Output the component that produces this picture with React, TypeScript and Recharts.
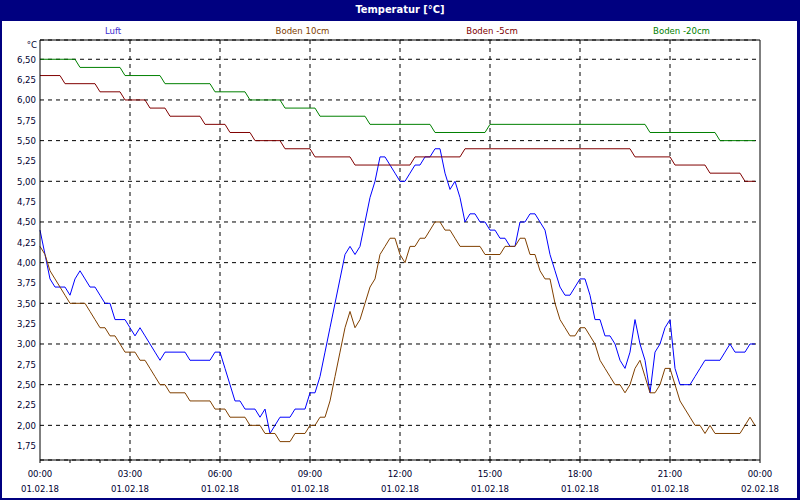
import { LineChart, Line, XAxis, YAxis, CartesianGrid, ReferenceLine } from 'recharts';

// 10-minute samples, 01.02.18 00:00 .. 02.02.18 00:00
const times = [
  '00:00', '00:10', '00:20', '00:30', '00:40', '00:50', '01:00', '01:10', '01:20', '01:30', '01:40', '01:50',
  '02:00', '02:10', '02:20', '02:30', '02:40', '02:50', '03:00', '03:10', '03:20', '03:30', '03:40', '03:50',
  '04:00', '04:10', '04:20', '04:30', '04:40', '04:50', '05:00', '05:10', '05:20', '05:30', '05:40', '05:50',
  '06:00', '06:10', '06:20', '06:30', '06:40', '06:50', '07:00', '07:10', '07:20', '07:30', '07:40', '07:50',
  '08:00', '08:10', '08:20', '08:30', '08:40', '08:50', '09:00', '09:10', '09:20', '09:30', '09:40', '09:50',
  '10:00', '10:10', '10:20', '10:30', '10:40', '10:50', '11:00', '11:10', '11:20', '11:30', '11:40', '11:50',
  '12:00', '12:10', '12:20', '12:30', '12:40', '12:50', '13:00', '13:10', '13:20', '13:30', '13:40', '13:50',
  '14:00', '14:10', '14:20', '14:30', '14:40', '14:50', '15:00', '15:10', '15:20', '15:30', '15:40', '15:50',
  '16:00', '16:10', '16:20', '16:30', '16:40', '16:50', '17:00', '17:10', '17:20', '17:30', '17:40', '17:50',
  '18:00', '18:10', '18:20', '18:30', '18:40', '18:50', '19:00', '19:10', '19:20', '19:30', '19:40', '19:50',
  '20:00', '20:10', '20:20', '20:30', '20:40', '20:50', '21:00', '21:10', '21:20', '21:30', '21:40', '21:50',
  '22:00', '22:10', '22:20', '22:30', '22:40', '22:50', '23:00', '23:10', '23:20', '23:30', '23:40', '23:50',
  '24:00',
];

const luft = [
  4.4, 4.1, 3.8, 3.7, 3.7, 3.7, 3.6, 3.8, 3.9, 3.8, 3.7, 3.7,
  3.6, 3.5, 3.5, 3.3, 3.3, 3.3, 3.2, 3.1, 3.2, 3.1, 3.0, 2.9,
  2.8, 2.9, 2.9, 2.9, 2.9, 2.9, 2.8, 2.8, 2.8, 2.8, 2.8, 2.9,
  2.9, 2.7, 2.5, 2.3, 2.3, 2.2, 2.2, 2.2, 2.1, 2.2, 1.9, 2.0,
  2.1, 2.1, 2.1, 2.2, 2.2, 2.2, 2.4, 2.4, 2.6, 2.9, 3.2, 3.5,
  3.8, 4.1, 4.2, 4.1, 4.2, 4.5, 4.8, 5.0, 5.3, 5.3, 5.2, 5.1,
  5.0, 5.0, 5.1, 5.2, 5.2, 5.3, 5.3, 5.4, 5.4, 5.1, 4.9, 5.0,
  4.8, 4.5, 4.6, 4.6, 4.5, 4.5, 4.4, 4.4, 4.3, 4.3, 4.2, 4.2,
  4.5, 4.5, 4.6, 4.6, 4.5, 4.4, 4.1, 3.9, 3.7, 3.6, 3.6, 3.7,
  3.8, 3.8, 3.6, 3.3, 3.3, 3.1, 3.1, 3.0, 2.8, 2.7, 2.9, 3.3,
  3.0, 2.8, 2.4, 2.9, 3.0, 3.2, 3.3, 2.7, 2.5, 2.5, 2.5, 2.6,
  2.7, 2.8, 2.8, 2.8, 2.8, 2.9, 3.0, 2.9, 2.9, 2.9, 3.0, 3.0,
  null,
];

const boden10 = [
  4.2, 4.1, 3.9, 3.8, 3.7, 3.6, 3.5, 3.5, 3.5, 3.5, 3.4, 3.3,
  3.2, 3.2, 3.1, 3.1, 3.0, 2.9, 2.9, 2.9, 2.8, 2.8, 2.7, 2.6,
  2.5, 2.5, 2.4, 2.4, 2.4, 2.4, 2.3, 2.3, 2.3, 2.3, 2.3, 2.2,
  2.2, 2.2, 2.1, 2.1, 2.1, 2.1, 2.0, 2.0, 2.0, 1.9, 1.9, 1.9,
  1.8, 1.8, 1.8, 1.9, 1.9, 1.9, 2.0, 2.0, 2.1, 2.1, 2.3, 2.6,
  2.9, 3.2, 3.4, 3.2, 3.3, 3.5, 3.7, 3.8, 4.1, 4.2, 4.3, 4.3,
  4.1, 4.0, 4.2, 4.2, 4.3, 4.3, 4.4, 4.5, 4.5, 4.4, 4.4, 4.3,
  4.2, 4.2, 4.2, 4.2, 4.2, 4.1, 4.1, 4.1, 4.1, 4.2, 4.2, 4.2,
  4.3, 4.3, 4.1, 4.1, 3.9, 3.8, 3.8, 3.5, 3.3, 3.2, 3.1, 3.1,
  3.2, 3.2, 3.1, 3.0, 2.8, 2.7, 2.6, 2.5, 2.5, 2.4, 2.5, 2.7,
  2.8, 2.6, 2.4, 2.4, 2.5, 2.7, 2.7, 2.5, 2.3, 2.2, 2.1, 2.0,
  2.0, 1.9, 2.0, 1.9, 1.9, 1.9, 1.9, 1.9, 1.9, 2.0, 2.1, 2.0,
  null,
];

const boden5 = [
  6.3, 6.3, 6.3, 6.3, 6.3, 6.2, 6.2, 6.2, 6.2, 6.2, 6.2, 6.2,
  6.1, 6.1, 6.1, 6.1, 6.1, 6.0, 6.0, 6.0, 6.0, 6.0, 5.9, 5.9,
  5.9, 5.9, 5.8, 5.8, 5.8, 5.8, 5.8, 5.8, 5.8, 5.7, 5.7, 5.7,
  5.7, 5.7, 5.6, 5.6, 5.6, 5.6, 5.6, 5.5, 5.5, 5.5, 5.5, 5.5,
  5.5, 5.4, 5.4, 5.4, 5.4, 5.4, 5.4, 5.3, 5.3, 5.3, 5.3, 5.3,
  5.3, 5.3, 5.3, 5.2, 5.2, 5.2, 5.2, 5.2, 5.2, 5.2, 5.2, 5.2,
  5.2, 5.2, 5.2, 5.3, 5.3, 5.3, 5.3, 5.3, 5.3, 5.3, 5.3, 5.3,
  5.3, 5.4, 5.4, 5.4, 5.4, 5.4, 5.4, 5.4, 5.4, 5.4, 5.4, 5.4,
  5.4, 5.4, 5.4, 5.4, 5.4, 5.4, 5.4, 5.4, 5.4, 5.4, 5.4, 5.4,
  5.4, 5.4, 5.4, 5.4, 5.4, 5.4, 5.4, 5.4, 5.4, 5.4, 5.4, 5.3,
  5.3, 5.3, 5.3, 5.3, 5.3, 5.3, 5.3, 5.2, 5.2, 5.2, 5.2, 5.2,
  5.2, 5.2, 5.1, 5.1, 5.1, 5.1, 5.1, 5.1, 5.1, 5.0, 5.0, 5.0,
  null,
];

const boden20 = [
  6.5, 6.5, 6.5, 6.5, 6.5, 6.5, 6.5, 6.5, 6.4, 6.4, 6.4, 6.4,
  6.4, 6.4, 6.4, 6.4, 6.4, 6.3, 6.3, 6.3, 6.3, 6.3, 6.3, 6.3,
  6.3, 6.2, 6.2, 6.2, 6.2, 6.2, 6.2, 6.2, 6.2, 6.2, 6.2, 6.1,
  6.1, 6.1, 6.1, 6.1, 6.1, 6.1, 6.0, 6.0, 6.0, 6.0, 6.0, 6.0,
  6.0, 5.9, 5.9, 5.9, 5.9, 5.9, 5.9, 5.9, 5.8, 5.8, 5.8, 5.8,
  5.8, 5.8, 5.8, 5.8, 5.8, 5.8, 5.7, 5.7, 5.7, 5.7, 5.7, 5.7,
  5.7, 5.7, 5.7, 5.7, 5.7, 5.7, 5.7, 5.6, 5.6, 5.6, 5.6, 5.6,
  5.6, 5.6, 5.6, 5.6, 5.6, 5.6, 5.7, 5.7, 5.7, 5.7, 5.7, 5.7,
  5.7, 5.7, 5.7, 5.7, 5.7, 5.7, 5.7, 5.7, 5.7, 5.7, 5.7, 5.7,
  5.7, 5.7, 5.7, 5.7, 5.7, 5.7, 5.7, 5.7, 5.7, 5.7, 5.7, 5.7,
  5.7, 5.7, 5.6, 5.6, 5.6, 5.6, 5.6, 5.6, 5.6, 5.6, 5.6, 5.6,
  5.6, 5.6, 5.6, 5.6, 5.5, 5.5, 5.5, 5.5, 5.5, 5.5, 5.5, 5.5,
  null,
];

const seriesNames = ['Luft', 'Boden 10cm', 'Boden -5cm', 'Boden -20cm'];
const seriesKeys = ['luft', 'boden10', 'boden5', 'boden20'];
const seriesColors = ['#0000ff', '#804000', '#800000', '#008000'];
const legendColors = ['#3a2cd0', '#804000', '#800000', '#008000'];

const yTicks = [1.75, 2, 2.25, 2.5, 2.75, 3, 3.25, 3.5, 3.75, 4, 4.25, 4.5, 4.75, 5, 5.25, 5.5, 5.75, 6, 6.25, 6.5];
const hourTicks = [
  '00:00', '01:00', '02:00', '03:00', '04:00', '05:00', '06:00', '07:00', '08:00', '09:00', '10:00', '11:00',
  '12:00', '13:00', '14:00', '15:00', '16:00', '17:00', '18:00', '19:00', '20:00', '21:00', '22:00', '23:00', '24:00',
];
const majorTicks = ['00:00', '03:00', '06:00', '09:00', '12:00', '15:00', '18:00', '21:00', '24:00'];
const majorTimeLabels = ['00:00', '03:00', '06:00', '09:00', '12:00', '15:00', '18:00', '21:00', '00:00'];
const majorDateLabels = ['01.02.18', '01.02.18', '01.02.18', '01.02.18', '01.02.18', '01.02.18', '01.02.18', '01.02.18', '02.02.18'];
const innerGridTicks = ['03:00', '06:00', '09:00', '12:00', '15:00', '18:00', '21:00'];

const Y_MIN = 1.574;
const Y_MAX = 6.737;

const FONT = "'DejaVu Sans Condensed', 'Liberation Sans', sans-serif";
const TEXT = '#000030';
const NAVY = '#000080';

const data = times.map((t, i) => ({
  time: t,
  luft: luft[i],
  boden10: boden10[i],
  boden5: boden5[i],
  boden20: boden20[i],
}));

function TimeTick({ x, y, payload }: any) {
  const i = majorTicks.indexOf(payload.value);
  if (i < 0) return <g />;
  return (
    <g fontFamily={FONT} fontSize={9.5} fill={TEXT}>
      <text x={x} y={y + 13.5} textAnchor="middle">{majorTimeLabels[i]}</text>
      <text x={x} y={y + 28.5} textAnchor="middle">{majorDateLabels[i]}</text>
    </g>
  );
}

export default function App() {
  return (
    <div
      style={{
        position: 'absolute',
        left: 0,
        top: 0,
        width: 800,
        height: 500,
        background: '#ffffff',
        fontFamily: FONT,
        overflow: 'hidden',
      }}
    >
      <LineChart width={800} height={500} data={data} margin={{ top: 40, right: 40, bottom: 0, left: 0 }}>
        <CartesianGrid vertical={false} stroke="#000" strokeDasharray="4 4" />
        {innerGridTicks.map((t) => (
          <ReferenceLine key={t} x={t} stroke="#000" strokeDasharray="4 4" />
        ))}
        <ReferenceLine x="24:00" stroke="#000" />
        <ReferenceLine y={Y_MAX} stroke="#000" />
        <XAxis
          dataKey="time"
          ticks={hourTicks}
          interval={0}
          height={40}
          tickSize={3}
          tickMargin={0}
          tick={<TimeTick />}
          tickLine={{ stroke: '#000' }}
          axisLine={{ stroke: '#000' }}
        />
        <YAxis
          type="number"
          domain={[Y_MIN, Y_MAX]}
          ticks={yTicks}
          width={40}
          tickSize={2}
          tickMargin={2}
          tickLine={false}
          axisLine={{ stroke: '#000' }}
          allowDataOverflow
          tick={{ fontSize: 9.5, fill: TEXT, fontFamily: FONT }}
          tickFormatter={(v: number) => v.toFixed(2).replace('.', ',')}
        />
        {seriesKeys.map((k, i) => (
          <Line
            key={k}
            dataKey={k}
            name={seriesNames[i]}
            type="linear"
            stroke={seriesColors[i]}
            strokeWidth={1}
            dot={false}
            activeDot={false}
            isAnimationActive={false}
          />
        ))}
      </LineChart>

      {/* title bar */}
      <div
        style={{
          position: 'absolute',
          left: 0,
          top: 0,
          width: 800,
          height: 21,
          background: NAVY,
          color: '#fff',
          fontWeight: 'bold',
          fontSize: 11,
          lineHeight: '20px',
          textAlign: 'center',
        }}
      >
        Temperatur [°C]
      </div>

      {/* legend */}
      {seriesNames.map((n, i) => (
        <div
          key={n}
          style={{
            position: 'absolute',
            left: 113 + i * 189.5,
            top: 24,
            transform: 'translateX(-50%)',
            fontSize: 9.5,
            lineHeight: '13px',
            color: legendColors[i],
            whiteSpace: 'nowrap',
          }}
        >
          {n}
        </div>
      ))}

      {/* unit label */}
      <div
        style={{
          position: 'absolute',
          left: 0,
          top: 38,
          width: 37,
          textAlign: 'right',
          fontSize: 9.5,
          lineHeight: '13px',
          color: TEXT,
        }}
      >
        °C
      </div>

      {/* frame */}
      <div
        style={{
          position: 'absolute',
          left: 0,
          top: 0,
          width: 800,
          height: 500,
          boxSizing: 'border-box',
          borderLeft: `2px solid ${NAVY}`,
          borderRight: `3px solid ${NAVY}`,
          borderBottom: `2px solid ${NAVY}`,
          pointerEvents: 'none',
        }}
      />
    </div>
  );
}
